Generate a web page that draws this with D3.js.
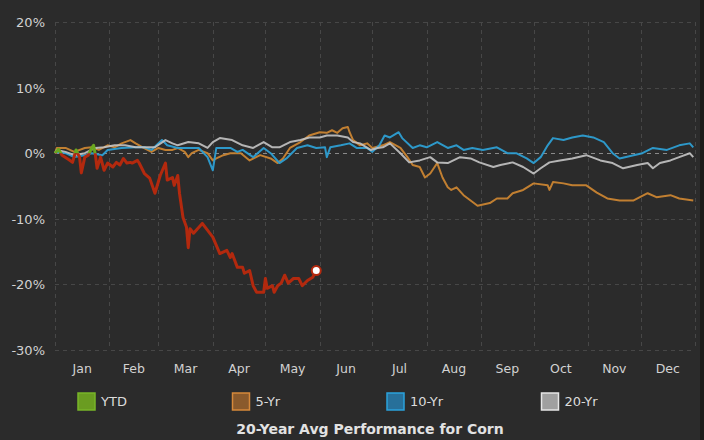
<!DOCTYPE html>
<html>
<head>
  <meta charset='utf-8'>
  <title>Corn_20yr</title>
  <style type='text/css'>
body{
  margin:0;
  background:#2b2b2b;
}
text{
  font-family: 'DejaVu Sans', sans-serif;
}
  </style>
</head>
<body>
<div id='chartContainer'></div>

<script src='https://d3js.org/d3.v7.min.js'></script>
<script type='text/javascript'>

// day of year (0 = Jan 1) and % change
var ytd = [[0,0],[2,0.6],[4,-0.3],[8,-1.0],[10,-1.4],[12,0.5],[14,-0.6],[15,-3.0],[17,-0.6],[19,-0.3],
  [21,0.8],[22,1.2],[23,-0.2],[24,-2.3],[26,-0.6],[28,-2.6],[30,-1.5],[33,-2.1],[35,-1.4],[37,-1.8],
  [39,-0.8],[41,-1.5],[43,-1.4],[44,-1.5],[47,-1.1],[48,-1.5],[51,-3.1],[54,-3.8],[57,-6.1],[60,-3.4],
  [63,-1.5],[64,-4.1],[67,-3.7],[68,-4.9],[70,-3.4],[71,-6.1],[73,-9.8],[75,-11.3],[76,-14.4],[77,-11.5],
  [79,-12.2],[84,-10.7],[90,-12.8],[94,-15.3],[98,-14.8],[100,-15.9],[101,-15.3],[104,-17.4],[107,-17.4],
  [108,-18.3],[111,-17.9],[113,-20.2],[115,-21.2],[119,-21.2],[120,-19.1],[121,-20.6],[124,-20.2],
  [125,-21.2],[127,-20.2],[129,-19.8],[131,-18.6],[133,-19.8],[136,-19.1],[139,-19.1],[141,-20.2],
  [144,-19.4],[147,-18.9],[149,-17.9]];

var fiveYr = [[0,0],[1,0.8],[6,0.8],[11,0.2],[17,0.8],[21,0.9],[25,0.5],[30,1.2],[34,0.9],[38,1.5],[43,2.0],
  [46,1.5],[50,0.9],[55,0.2],[59,0.8],[63,0.5],[67,0.5],[70,0.8],[74,0.2],[76,-0.6],[78,0.0],[82,0.5],
  [87,0.0],[90,-1.1],[92,-0.8],[96,-0.3],[100,0.0],[106,0.0],[111,-1.1],[117,-0.3],[123,-0.8],[127,-1.5],
  [130,-0.8],[134,0.8],[140,1.7],[145,2.7],[151,3.2],[155,3.1],[158,3.5],[161,3.1],[164,3.8],[167,4.0],
  [168,3.2],[170,2.0],[174,1.2],[178,1.5],[181,0.8],[187,1.2],[191,1.7],[197,0.8],[201,-0.6],[204,-1.8],
  [208,-2.1],[211,-3.7],[214,-3.1],[218,-1.5],[221,-3.7],[224,-5.2],[226,-5.6],[229,-5.2],[233,-6.4],
  [237,-7.2],[241,-8.0],[248,-7.6],[252,-6.9],[258,-6.9],[261,-6.1],[267,-5.6],[273,-4.6],[281,-4.9],
  [282,-5.6],[284,-4.4],[290,-4.6],[295,-4.9],[303,-4.9],[309,-6.0],[315,-6.9],[322,-7.2],[330,-7.2],
  [338,-6.1],[343,-6.7],[351,-6.4],[356,-6.9],[364,-7.2]];

var tenYr = [[0,0],[1,0.2],[6,0.0],[11,-0.6],[17,-0.3],[21,0.0],[27,-0.3],[30,0.5],[38,0.8],[46,0.9],[51,0.9],
  [55,0.5],[61,2.0],[64,1.2],[70,0.8],[76,0.8],[82,0.8],[87,-0.6],[90,-2.6],[92,0.8],[100,0.8],[104,0.2],
  [107,0.5],[113,-0.6],[119,0.8],[123,0.0],[128,-1.5],[132,-0.8],[138,0.8],[144,1.2],[149,0.8],[154,0.9],
  [155,-0.6],[157,0.9],[163,1.2],[168,1.5],[172,0.8],[178,0.8],[181,0.2],[185,1.2],[188,2.7],[191,2.4],
  [196,3.2],[198,2.3],[204,0.8],[208,1.2],[212,0.9],[218,1.7],[224,0.8],[229,1.2],[233,0.5],[238,0.8],
  [244,0.5],[252,0.9],[258,0.0],[263,0.0],[269,-0.8],[273,-1.5],[277,-0.6],[281,1.2],[284,2.3],[290,2.0],
  [295,2.4],[301,2.7],[307,2.4],[313,1.7],[318,0.0],[322,-0.8],[330,-0.3],[335,0.0],[341,0.8],[349,0.5],
  [356,1.2],[362,1.5],[364,0.9]];

var twentyYr = [[0,0],[1,0.5],[6,0.2],[11,-0.3],[17,0.0],[23,0.8],[28,0.9],[34,1.2],[40,1.2],[46,0.9],[51,0.9],
  [57,0.9],[63,2.0],[67,1.5],[70,1.2],[76,1.7],[82,1.5],[87,0.8],[90,1.7],[94,2.3],[101,2.0],[107,1.2],
  [113,0.8],[119,1.7],[124,0.9],[128,0.9],[134,1.7],[140,2.0],[145,2.4],[151,2.4],[155,2.7],[161,2.7],
  [167,2.4],[170,1.7],[174,1.5],[180,0.5],[184,0.8],[187,0.9],[191,1.5],[197,0.0],[202,-1.4],[208,-1.1],
  [214,-0.6],[218,-1.4],[224,-1.5],[231,-0.6],[237,-0.8],[242,-1.4],[250,-2.1],[254,-1.8],[261,-1.4],
  [267,-2.1],[273,-3.1],[277,-2.3],[282,-1.4],[288,-1.1],[295,-0.8],[303,-0.3],[311,-1.1],[318,-1.5],
  [324,-2.3],[332,-1.8],[338,-1.5],[341,-2.3],[345,-1.5],[351,-1.1],[356,-0.6],[362,0.0],[364,-0.6]];

var yTicks = [-30, -20, -10, 0, 10, 20];
var months = ['Jan','Feb','Mar','Apr','May','Jun','Jul','Aug','Sep','Oct','Nov','Dec'];
var legendNames = ['YTD', '5-Yr', '10-Yr', '20-Yr'];
var chartTitle = '20-Year Avg Performance for Corn';

var svg = d3.select('#chartContainer').append('svg')
    .attr('width', 704)
    .attr('height', 440);

svg.append('rect').attr('width', 704).attr('height', 440).attr('fill', '#2b2b2b');
svg.append('rect').attr('x', 700).attr('width', 4).attr('height', 440).attr('fill', '#1c1c1a');

var plotLeft = 55, plotRight = 695, plotTop = 22, plotBottom = 350;
var year = 2019;
function day(d) { return new Date(year, 0, 1 + d); }

var x = d3.scaleTime()
    .domain([new Date(year, 0, 1), new Date(year + 1, 0, 1)])
    .range([plotLeft, plotRight]);
var y = d3.scaleLinear().domain([-30, 20]).range([plotBottom, plotTop]);

// grid
var monthStarts = d3.range(13).map(function (m) { return new Date(year, m, 1); });
svg.append('g').selectAll('line').data(monthStarts).enter().append('line')
    .attr('x1', function (d) { return Math.round(x(d)) + 0.5; })
    .attr('x2', function (d) { return Math.round(x(d)) + 0.5; })
    .attr('y1', plotTop).attr('y2', plotBottom)
    .attr('stroke', '#474747').attr('stroke-dasharray', '4,4');

svg.append('g').selectAll('line').data(yTicks).enter().append('line')
    .attr('x1', plotLeft).attr('x2', plotRight)
    .attr('y1', function (d) { return Math.round(y(d)) + 0.5; })
    .attr('y2', function (d) { return Math.round(y(d)) + 0.5; })
    .attr('stroke', function (d) { return d === 0 ? '#8a8a8a' : '#474747'; })
    .attr('stroke-dasharray', '4,4');

// y labels
svg.append('g').selectAll('text').data(yTicks).enter().append('text')
    .attr('x', 45)
    .attr('y', function (d) { return y(d) + 5; })
    .attr('text-anchor', 'end')
    .attr('fill', '#d2d2d2')
    .style('font-size', '13px')
    .text(function (d) { return d + '%'; });

// month labels
svg.append('g').selectAll('text').data(months).enter().append('text')
    .attr('x', function (d, i) { return (x(new Date(year, i, 1)) + x(new Date(year, i + 1, 1))) / 2; })
    .attr('y', 373)
    .attr('text-anchor', 'middle')
    .attr('fill', '#d2d2d2')
    .style('font-size', '12.5px')
    .text(function (d) { return d; });

var line = d3.line()
    .x(function (d) { return x(day(d[0])); })
    .y(function (d) { return y(d[1]); });

function drawLine(data, color, width, op) {
  svg.append('path')
    .datum(data)
    .attr('d', line)
    .attr('fill', 'none')
    .attr('stroke', color)
    .attr('stroke-width', width)
    .attr('stroke-opacity', op)
    .attr('stroke-linejoin', 'round');
}

drawLine(fiveYr, '#c98432', 2, 0.95);
drawLine(tenYr, '#2d9ed2', 2, 0.95);
drawLine(twentyYr, '#c4c4c4', 2, 0.9);

// YTD with green above zero and red below
var defs = svg.append('defs');
defs.append('clipPath').attr('id', 'above').append('rect')
    .attr('x', 0).attr('y', 0).attr('width', 704).attr('height', y(0));
defs.append('clipPath').attr('id', 'below').append('rect')
    .attr('x', 0).attr('y', y(0)).attr('width', 704).attr('height', 440);

svg.append('path').datum(ytd).attr('d', line)
    .attr('fill', 'none').attr('stroke', '#6aa61e').attr('stroke-width', 3)
    .attr('stroke-linejoin', 'round').attr('clip-path', 'url(#above)');
svg.append('path').datum(ytd).attr('d', line)
    .attr('fill', 'none').attr('stroke', '#b3290e').attr('stroke-width', 3)
    .attr('stroke-linejoin', 'round').attr('clip-path', 'url(#below)');

var last = ytd[ytd.length - 1];
svg.append('circle')
    .attr('cx', x(day(last[0])))
    .attr('cy', y(last[1]))
    .attr('r', 4.5)
    .attr('fill', '#ffffff')
    .attr('stroke', '#b3290e')
    .attr('stroke-width', 2);

// legend
var legendFill = ['#6a9c21', '#8a5a2c', '#27709a', '#a0a0a0'];
var legendStroke = ['#78b528', '#d6893a', '#2ba2dc', '#e6e6e6'];
var lg = svg.append('g').selectAll('g').data(legendNames).enter().append('g')
    .attr('transform', function (d, i) { return 'translate(' + (77 + i * 154.5) + ',392)'; });
lg.append('rect')
    .attr('x', 1).attr('y', 1).attr('width', 17).attr('height', 17)
    .attr('fill', function (d, i) { return legendFill[i]; })
    .attr('stroke', function (d, i) { return legendStroke[i]; })
    .attr('stroke-width', 1.5);
lg.append('text')
    .attr('x', 24).attr('y', 14)
    .attr('fill', '#dcdcdc')
    .style('font-size', '13px')
    .text(function (d) { return d; });

svg.append('text')
    .attr('x', 370)
    .attr('y', 434)
    .attr('text-anchor', 'middle')
    .attr('fill', '#e2e2e2')
    .style('font-size', '14px')
    .style('font-weight', 'bold')
    .text(chartTitle);

</script>
</body>
</html>
